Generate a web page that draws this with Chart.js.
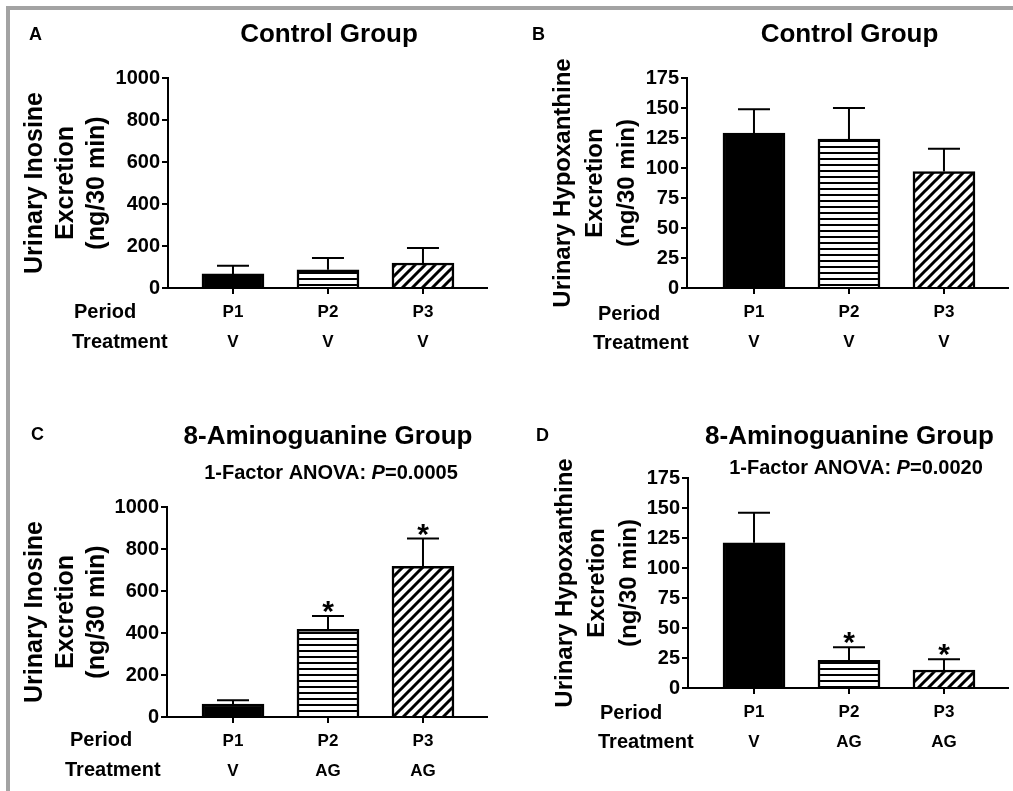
<!DOCTYPE html>
<html>
<head>
<meta charset="utf-8">
<script src="https://cdn.jsdelivr.net/npm/chart.js@4.4.0/dist/chart.umd.min.js"></script>
<style>
body { margin: 0; background: #fff; width: 1013px; height: 791px; overflow: hidden; position: relative; }
canvas { position: absolute; }
#frame { position: absolute; left: 6px; top: 6px; width: 1010px; height: 790px;
         border-top: 4px solid #a3a3a3; border-left: 4px solid #a3a3a3; }
</style>
</head>
<body>
<div id="frame"></div>
<canvas id="cA" width="506" height="390" style="left:0;top:0"></canvas>
<canvas id="cB" width="507" height="390" style="left:506px;top:0"></canvas>
<canvas id="cC" width="506" height="401" style="left:0;top:390px"></canvas>
<canvas id="cD" width="507" height="401" style="left:506px;top:390px"></canvas>
<script>
var periods = ['P1', 'P2', 'P3'];
var treatControl = ['V', 'V', 'V'];
var treatAG = ['V', 'AG', 'AG'];
var inosineTicks = [0, 200, 400, 600, 800, 1000];
var hypoTicks = [0, 25, 50, 75, 100, 125, 150, 175];

// means and SEM (upper error bar only)
var ctrlInosine = [67, 87, 119];
var ctrlInosineSem = [39, 56, 71];
var ctrlHypo = [129, 124, 97];
var ctrlHypoSem = [20, 26, 19];
var agInosine = [62, 417, 717];
var agInosineSem = [18, 64, 133];
var agHypo = [121, 23, 15];
var agHypoSem = [25, 11, 9];
var noStars = [false, false, false];
var agStars = [false, true, true];

var FONT = '"Liberation Sans", Arial, sans-serif';

function makeFills(ctx) {
    var h = document.createElement('canvas');
    h.width = 10; h.height = 6;
    var hx = h.getContext('2d');
    hx.fillStyle = '#fff'; hx.fillRect(0, 0, 10, 6);
    hx.fillStyle = '#000'; hx.fillRect(0, 2, 10, 2);

    var d = document.createElement('canvas');
    d.width = 10; d.height = 10;
    var dx = d.getContext('2d');
    dx.fillStyle = '#fff'; dx.fillRect(0, 0, 10, 10);
    dx.strokeStyle = '#000'; dx.lineWidth = 3;
    dx.beginPath();
    dx.moveTo(-2, 12); dx.lineTo(12, -2);
    dx.moveTo(-5, 5); dx.lineTo(5, -5);
    dx.moveTo(5, 15); dx.lineTo(15, 5);
    dx.stroke();

    return ['#000', ctx.createPattern(h, 'repeat'), ctx.createPattern(d, 'repeat')];
}

var errorBars = {
    id: 'errorBars',
    afterDatasetsDraw: function(chart) {
        var ctx = chart.ctx, ys = chart.scales.y;
        var ds = chart.data.datasets[0];
        var meta = chart.getDatasetMeta(0);
        ctx.save();
        ctx.strokeStyle = '#000';
        ctx.fillStyle = '#000';
        ctx.lineWidth = 2;
        ctx.font = 'bold 30px ' + FONT;
        ctx.textAlign = 'center';
        ctx.textBaseline = 'alphabetic';
        meta.data.forEach(function(bar, i) {
            var v = ds.data[i].y;
            var y0 = ys.getPixelForValue(v);
            var y1 = ys.getPixelForValue(v + ds.sem[i]);
            ctx.beginPath();
            ctx.moveTo(bar.x, y0); ctx.lineTo(bar.x, y1);
            ctx.moveTo(bar.x - 16, y1); ctx.lineTo(bar.x + 16, y1);
            ctx.stroke();
            if (ds.stars[i]) ctx.fillText('*', bar.x, y1 + 5);
        });
        ctx.restore();
    }
};

function textPlugin(items, ox, oy) {
    return {
        id: 'texts',
        afterDraw: function(chart) {
            var ctx = chart.ctx;
            ctx.save();
            ctx.fillStyle = '#000';
            ctx.textBaseline = 'middle';
            items.forEach(function(it) {
                var parts = typeof it.t === 'string' ? [[it.t, 'bold']] : it.t;
                var w = 0;
                parts.forEach(function(p) {
                    ctx.font = p[1] + ' ' + it.size + 'px ' + FONT;
                    w += ctx.measureText(p[0]).width;
                });
                var x = it.x - ox;
                if (it.align === 'center') x -= w / 2;
                ctx.textAlign = 'left';
                parts.forEach(function(p) {
                    ctx.font = p[1] + ' ' + it.size + 'px ' + FONT;
                    ctx.fillText(p[0], x, it.y - oy);
                    x += ctx.measureText(p[0]).width;
                });
            });
            ctx.restore();
        }
    };
}

function makePanel(c) {
    var canvas = document.getElementById(c.id);
    var ctx = canvas.getContext('2d');
    var titleLeft = c.yTitleX - c.yTitleLH / 2;
    var xH = 70;
    var yW = c.axL - titleLeft;

    new Chart(ctx, {
        type: 'bar',
        data: {
            datasets: [{
                data: c.values.map(function(v, i) { return {x: i, y: v}; }),
                sem: c.sem,
                stars: c.stars,
                backgroundColor: makeFills(ctx),
                borderColor: '#000',
                borderWidth: 2.5,
                barThickness: 62
            }]
        },
        options: {
            responsive: false,
            animation: false,
            events: [],
            layout: {
                padding: {
                    left: titleLeft - c.ox,
                    right: c.ox + c.w - c.axR,
                    top: c.top - c.oy,
                    bottom: c.oy + c.h - c.bottom - xH
                }
            },
            plugins: { legend: { display: false }, tooltip: { enabled: false } },
            scales: {
                x: {
                    type: 'linear',
                    offset: false,
                    min: c.xMin,
                    max: c.xMax,
                    afterBuildTicks: function(s) {
                        s.ticks = periods.map(function(p, i) { return {value: i}; });
                    },
                    afterFit: function(s) { s.height = xH; },
                    grid: { display: true, offset: false, drawOnChartArea: false, drawTicks: true, tickLength: 6, color: '#000', lineWidth: 2 },
                    border: { display: true, color: '#000', width: 2 },
                    ticks: {
                        color: '#000',
                        padding: 3,
                        maxRotation: 0,
                        autoSkip: false,
                        font: { family: FONT, size: 17, weight: 'bold', lineHeight: '30px' },
                        callback: function(v) { return [periods[v], c.treat[v]]; }
                    }
                },
                y: {
                    min: c.yTicks[0],
                    max: c.yTicks[c.yTicks.length - 1],
                    afterBuildTicks: function(s) {
                        s.ticks = c.yTicks.map(function(v) { return {value: v}; });
                    },
                    afterFit: function(s) { s.width = yW; },
                    grid: { display: true, drawOnChartArea: false, drawTicks: true, tickLength: 6, color: '#000', lineWidth: 2 },
                    border: { display: true, color: '#000', width: 2 },
                    ticks: {
                        color: '#000',
                        padding: 2,
                        font: { family: FONT, size: 20, weight: 'bold' },
                        callback: function(v) { return String(v); }
                    },
                    title: {
                        display: true,
                        text: c.yTitle,
                        color: '#000',
                        padding: 0,
                        font: { family: FONT, size: c.yTitleSize, weight: 'bold', lineHeight: c.yTitleLH + 'px' }
                    }
                }
            }
        },
        plugins: [errorBars, textPlugin(c.texts, c.ox, c.oy)]
    });
}

var inosineTitle = ['Urinary Inosine', 'Excretion', '(ng/30 min)'];
var hypoTitle = ['Urinary Hypoxanthine', 'Excretion', '(ng/30 min)'];

makePanel({
    id: 'cA', ox: 0, oy: 0, w: 506, h: 390,
    axL: 168, axR: 487, top: 78, bottom: 288, xMin: -0.684, xMax: 2.674,
    yTitleX: 35, yTitleLH: 31, yTitleSize: 25, yTitle: inosineTitle,
    values: ctrlInosine, sem: ctrlInosineSem, stars: noStars, yTicks: inosineTicks, treat: treatControl,
    texts: [
        {t: 'A', x: 35.5, y: 35, size: 18, align: 'center'},
        {t: 'Control Group', x: 329, y: 35, size: 26, align: 'center'},
        {t: 'Period', x: 74, y: 312, size: 20, align: 'left'},
        {t: 'Treatment', x: 72, y: 342, size: 20, align: 'left'}
    ]
});

makePanel({
    id: 'cB', ox: 506, oy: 0, w: 507, h: 390,
    axL: 687, axR: 1008, top: 78, bottom: 288, xMin: -0.705, xMax: 2.674,
    yTitleX: 563, yTitleLH: 32, yTitleSize: 24, yTitle: hypoTitle,
    values: ctrlHypo, sem: ctrlHypoSem, stars: noStars, yTicks: hypoTicks, treat: treatControl,
    texts: [
        {t: 'B', x: 538.5, y: 35, size: 18, align: 'center'},
        {t: 'Control Group', x: 849.5, y: 35, size: 26, align: 'center'},
        {t: 'Period', x: 598, y: 314, size: 20, align: 'left'},
        {t: 'Treatment', x: 593, y: 343, size: 20, align: 'left'}
    ]
});

makePanel({
    id: 'cC', ox: 0, oy: 390, w: 506, h: 401,
    axL: 167, axR: 487, top: 507, bottom: 717, xMin: -0.695, xMax: 2.674,
    yTitleX: 35, yTitleLH: 31, yTitleSize: 25, yTitle: inosineTitle,
    values: agInosine, sem: agInosineSem, stars: agStars, yTicks: inosineTicks, treat: treatAG,
    texts: [
        {t: 'C', x: 37.5, y: 435, size: 18, align: 'center'},
        {t: '8-Aminoguanine Group', x: 328, y: 437, size: 26, align: 'center'},
        {t: [['1-Factor ANOVA: ', 'bold'], ['P', 'italic bold'], ['=0.0005', 'bold']], x: 331, y: 473, size: 20, align: 'center'},
        {t: 'Period', x: 70, y: 740, size: 20, align: 'left'},
        {t: 'Treatment', x: 65, y: 770, size: 20, align: 'left'}
    ]
});

makePanel({
    id: 'cD', ox: 506, oy: 390, w: 507, h: 401,
    axL: 688, axR: 1008, top: 478, bottom: 688, xMin: -0.695, xMax: 2.674,
    yTitleX: 565, yTitleLH: 32, yTitleSize: 24, yTitle: hypoTitle,
    values: agHypo, sem: agHypoSem, stars: agStars, yTicks: hypoTicks, treat: treatAG,
    texts: [
        {t: 'D', x: 542.5, y: 436, size: 18, align: 'center'},
        {t: '8-Aminoguanine Group', x: 849.5, y: 437, size: 26, align: 'center'},
        {t: [['1-Factor ANOVA: ', 'bold'], ['P', 'italic bold'], ['=0.0020', 'bold']], x: 856, y: 468, size: 20, align: 'center'},
        {t: 'Period', x: 600, y: 713, size: 20, align: 'left'},
        {t: 'Treatment', x: 598, y: 742, size: 20, align: 'left'}
    ]
});
</script>
</body>
</html>
